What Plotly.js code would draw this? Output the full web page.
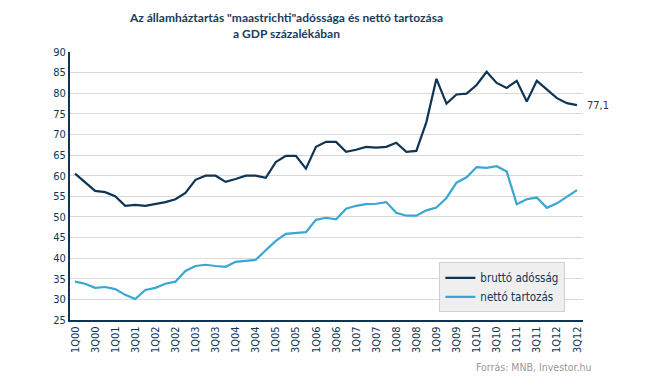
<!DOCTYPE html>
<html>
<head>
<meta charset="utf-8">
<script src="https://cdn.plot.ly/plotly-3.0.1.min.js"></script>
<style>html,body{margin:0;padding:0;background:#fff;}#chart{width:645px;height:391px;}</style>
</head>
<body>
<div id="chart"></div>
<script>
const quarters = [
  "1Q00","2Q00","3Q00","4Q00","1Q01","2Q01","3Q01","4Q01","1Q02","2Q02","3Q02","4Q02",
  "1Q03","2Q03","3Q03","4Q03","1Q04","2Q04","3Q04","4Q04","1Q05","2Q05","3Q05","4Q05",
  "1Q06","2Q06","3Q06","4Q06","1Q07","2Q07","3Q07","4Q07","1Q08","2Q08","3Q08","4Q08",
  "1Q09","2Q09","3Q09","4Q09","1Q10","2Q10","3Q10","4Q10","1Q11","2Q11","3Q11","4Q11",
  "1Q12","2Q12","3Q12"
];
const tickLabels = quarters.filter((q, i) => i % 2 === 0);
const grossDebt = [
  60.5,58.5,56.3,56.0,55.0,52.7,52.9,52.7,53.1,53.6,54.3,55.8,
  59.0,60.0,60.0,58.5,59.2,60.0,60.0,59.5,63.3,64.8,64.8,61.7,
  67.0,68.2,68.2,65.8,66.3,67.0,66.8,67.0,68.0,65.8,66.0,73.0,
  83.5,77.5,79.7,79.9,82.0,85.2,82.5,81.3,83.0,78.0,83.0,80.8,
  78.8,77.6,77.1
];
const netDebt = [
  34.3,33.8,32.8,33.0,32.5,31.1,30.1,32.3,32.8,33.8,34.3,36.9,
  38.1,38.4,38.1,37.9,39.1,39.3,39.6,41.9,44.2,45.9,46.1,46.3,
  49.3,49.8,49.4,52.0,52.7,53.1,53.2,53.6,51.0,50.3,50.3,51.6,
  52.3,54.6,58.3,59.6,62.1,61.9,62.3,61.0,53.1,54.3,54.7,52.2,
  53.3,55.0,56.5
];
const seriesNames = ["bruttó adósság", "nettó tartozás"];
const lastLabel = "77,1";

const FONT = "'DejaVu Sans Condensed', 'DejaVu Sans', sans-serif";
const TFONT = "Lato, 'DejaVu Sans', sans-serif";
const NAVY = "#0f3553";
const LIGHT = "#3aa6d3";

const traces = [
  {x: quarters, y: grossDebt, name: seriesNames[0], type: "scatter", mode: "lines",
   line: {color: NAVY, width: 2.2}},
  {x: quarters, y: netDebt, name: seriesNames[1], type: "scatter", mode: "lines",
   line: {color: LIGHT, width: 2.2}}
];

const layout = {
  width: 645, height: 391,
  margin: {l: 70, r: 62, t: 52, b: 71},
  paper_bgcolor: "#fff", plot_bgcolor: "#fff",
  font: {family: FONT, size: 11, color: NAVY},
  showlegend: true,
  legend: {
    x: 0.72, xanchor: "left", y: 0.215, yanchor: "top",
    bgcolor: "#efefef", bordercolor: "#cfcfcf", borderwidth: 1,
    font: {family: FONT, size: 11.5, color: NAVY},
    tracegroupgap: 4
  },
  xaxis: {
    type: "category",
    range: [-0.5, 50.6],
    tickmode: "array", tickvals: tickLabels, ticktext: tickLabels,
    tickangle: -90,
    tickfont: {family: FONT, size: 11, color: NAVY},
    showgrid: false, zeroline: false,
    showline: true, linecolor: NAVY, linewidth: 2,
    ticks: "", ticklen: 0
  },
  yaxis: {
    range: [25, 90], dtick: 5,
    tickfont: {family: FONT, size: 11, color: NAVY},
    showgrid: true, gridcolor: "#d9d9d9", gridwidth: 1,
    zeroline: false,
    showline: true, linecolor: NAVY, linewidth: 2,
    ticks: "", ticklen: 0
  },
  annotations: [
    {xref: "paper", yref: "paper", x: 0.421, y: 1.1, xanchor: "center", yanchor: "middle",
     text: "<b>Az államháztartás \"maastrichti\"adóssága és nettó tartozása<br>a GDP százalékában</b>",
     showarrow: false, align: "center",
     font: {family: TFONT, size: 12, color: "#1b3b5e"}},
    {xref: "x", yref: "y", x: quarters[quarters.length - 1], y: grossDebt[grossDebt.length - 1],
     text: lastLabel, showarrow: false, xanchor: "left", xshift: 8,
     font: {family: FONT, size: 11, color: "#333"}},
    {xref: "paper", yref: "paper", x: 1.02, y: -0.146, xanchor: "right", yanchor: "top",
     text: "Forrás: MNB, Investor.hu", showarrow: false,
     font: {family: FONT, size: 10.5, color: "#999"}}
  ]
};

Plotly.newPlot("chart", traces, layout, {displayModeBar: false, staticPlot: true});
</script>
</body>
</html>
